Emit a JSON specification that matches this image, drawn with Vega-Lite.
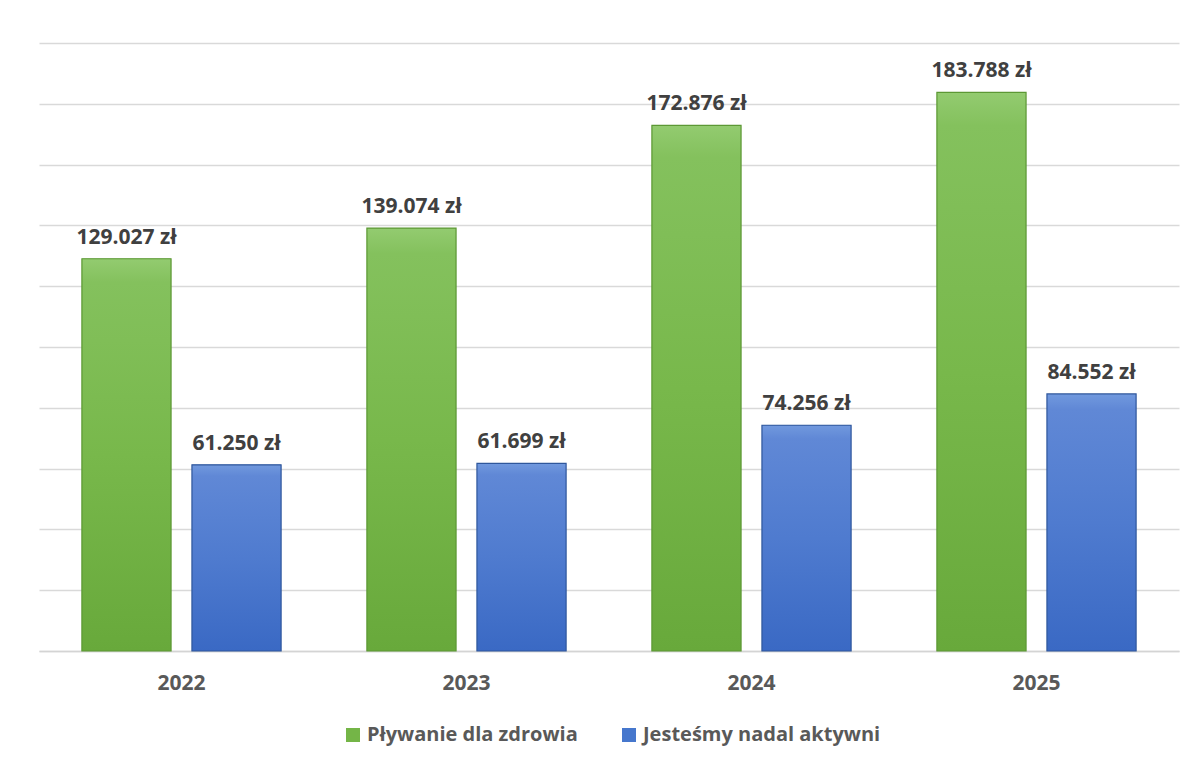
{
  "$schema": "https://vega.github.io/schema/vega-lite/v6.json",
  "width": 1140,
  "height": 608,
  "autosize": {"type": "none"},
  "padding": {"left": 39, "top": 43, "right": 16, "bottom": 113},
  "background": "#ffffff",
  "config": {
    "view": {"stroke": null},
    "locale": {"number": {"decimal": ",", "thousands": ".", "grouping": [3], "currency": ["", " zł"]}},
    "font": "Open Sans"
  },
  "data": {
    "values": [
      {"year": "2022", "series": "Pływanie dla zdrowia", "value": 129027},
      {"year": "2022", "series": "Jesteśmy nadal aktywni", "value": 61250},
      {"year": "2023", "series": "Pływanie dla zdrowia", "value": 139074},
      {"year": "2023", "series": "Jesteśmy nadal aktywni", "value": 61699},
      {"year": "2024", "series": "Pływanie dla zdrowia", "value": 172876},
      {"year": "2024", "series": "Jesteśmy nadal aktywni", "value": 74256},
      {"year": "2025", "series": "Pływanie dla zdrowia", "value": 183788},
      {"year": "2025", "series": "Jesteśmy nadal aktywni", "value": 84552}
    ]
  },
  "encoding": {
    "x": {
      "field": "year", "type": "nominal",
      "scale": {"paddingInner": 0, "paddingOuter": 0},
      "axis": {
        "title": null, "labelAngle": 0, "domain": true, "domainColor": "#d4d4d4", "domainWidth": 1.5,
        "ticks": false, "labelFont": "Open Sans", "labelFontWeight": "bold", "labelFontSize": 21,
        "labelColor": "#595959", "labelPadding": 21
      }
    },
    "xOffset": {
      "field": "series", "type": "nominal",
      "sort": ["Pływanie dla zdrowia", "Jesteśmy nadal aktywni"],
      "scale": {"domain": ["Pływanie dla zdrowia", "Jesteśmy nadal aktywni"], "paddingInner": 0.19, "paddingOuter": 0.39}
    },
    "y": {
      "field": "value", "type": "quantitative",
      "scale": {"domain": [0, 200000], "nice": false},
      "axis": {
        "title": null, "labels": false, "ticks": false, "domain": false,
        "values": [0, 20000, 40000, 60000, 80000, 100000, 120000, 140000, 160000, 180000, 200000],
        "grid": true, "gridColor": "#d9d9d9", "gridWidth": 1.5
      }
    }
  },
  "layer": [
    {
      "mark": {"type": "bar"},
      "encoding": {
        "color": {
          "field": "series", "type": "nominal",
          "sort": ["Pływanie dla zdrowia", "Jesteśmy nadal aktywni"],
          "scale": {"domain": ["Pływanie dla zdrowia", "Jesteśmy nadal aktywni"], "range": ["#74b547", "#4677cd"]},
          "legend": {
            "title": null, "orient": "none", "direction": "horizontal",
            "legendX": 304, "legendY": 682,
            "symbolType": "square", "symbolSize": 196, "symbolStrokeWidth": 0,
            "labelFont": "Open Sans", "labelFontWeight": "bold", "labelFontSize": 20,
            "labelColor": "#595959", "columnPadding": 41, "labelOffset": 4, "labelLimit": 400
          }
        }
      }
    },
    {
      "transform": [{"filter": "datum.series === 'Pływanie dla zdrowia'"}],
      "mark": {
        "type": "bar", "stroke": "#5c9834", "strokeWidth": 1.2,
        "fill": {"gradient": "linear", "x1": 0, "y1": 0, "x2": 0, "y2": 1,
          "stops": [{"offset": 0, "color": "#93cb70"}, {"offset": 0.06, "color": "#84c15d"}, {"offset": 0.5, "color": "#78b84b"}, {"offset": 1, "color": "#68a93b"}]}
      },
      "encoding": {}
    },
    {
      "transform": [{"filter": "datum.series === 'Jesteśmy nadal aktywni'"}],
      "mark": {
        "type": "bar", "stroke": "#2f579c", "strokeWidth": 1.2,
        "fill": {"gradient": "linear", "x1": 0, "y1": 0, "x2": 0, "y2": 1,
          "stops": [{"offset": 0, "color": "#7199de"}, {"offset": 0.06, "color": "#6088d6"}, {"offset": 0.5, "color": "#4f7bcf"}, {"offset": 1, "color": "#3a69c4"}]}
      },
      "encoding": {}
    },
    {
      "mark": {"type": "text", "baseline": "alphabetic", "dy": -15, "fontWeight": "bold", "fontSize": 21, "font": "Open Sans", "color": "#404040"},
      "encoding": {
        "text": {"field": "value", "type": "quantitative", "format": "$,.0f"}
      }
    }
  ]
}
